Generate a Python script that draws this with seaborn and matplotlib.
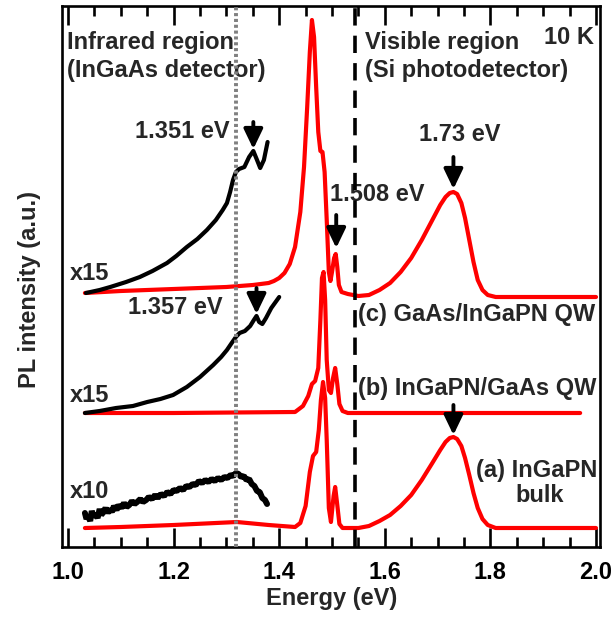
import numpy as np
import pandas as pd
import matplotlib
matplotlib.use("Agg")
import matplotlib.pyplot as plt
from matplotlib.ticker import MultipleLocator
import seaborn as sns

# ---- spectra (energy in eV, PL intensity in a.u., vertical offsets included) ----
# (a) InGaPN bulk, visible detector
a_vis_E = [1.032, 1.10, 1.20, 1.32, 1.38, 1.43, 1.44, 1.450, 1.458, 1.464, 1.470, 1.475,
           1.479, 1.483, 1.487, 1.490, 1.494, 1.498, 1.503, 1.506, 1.510, 1.514, 1.52,
           1.55, 1.57, 1.59, 1.61, 1.63, 1.65, 1.67, 1.69, 1.705, 1.715, 1.723, 1.73,
           1.737, 1.745, 1.752, 1.76, 1.768, 1.776, 1.785, 1.795, 1.81, 2.0]
a_vis_I = [1.9, 2.0, 2.2, 2.5, 2.2, 2.0, 2.4, 4.1, 7.5, 9.1, 9.5, 11.7,
           14.7, 16.5, 14.9, 10.7, 3.9, 2.5, 5.1, 6.0, 4.2, 2.3, 1.9,
           1.9, 2.1, 2.6, 3.2, 4.1, 5.2, 6.7, 8.4, 9.7, 10.5, 10.9, 11.0,
           10.8, 10.1, 8.9, 7.2, 5.4, 3.9, 2.8, 2.2, 1.9, 1.9]

# (a) InGaPN bulk, infrared detector (x10)
a_ir_E = [1.032, 1.035, 1.038, 1.042, 1.045, 1.049, 1.052, 1.056, 1.060, 1.063, 1.067,
          1.071, 1.075, 1.079, 1.083, 1.087, 1.092, 1.096, 1.101, 1.106, 1.111, 1.116,
          1.121, 1.126, 1.131, 1.137, 1.142, 1.148, 1.153, 1.159, 1.165, 1.170, 1.176,
          1.182, 1.188, 1.194, 1.200, 1.206, 1.212, 1.218, 1.224, 1.230, 1.236, 1.242,
          1.248, 1.254, 1.260, 1.266, 1.272, 1.278, 1.284, 1.290, 1.296, 1.302, 1.308,
          1.313, 1.318, 1.323, 1.328, 1.333, 1.338, 1.343, 1.348, 1.353, 1.358, 1.363,
          1.368, 1.373, 1.377]
a_ir_I = [3.4, 2.8, 3.1, 2.6, 3.6, 3.0, 3.3, 2.9, 3.8, 3.2, 3.5,
          3.9, 3.4, 3.8, 3.5, 4.1, 3.7, 4.2, 3.9, 4.4, 4.0, 4.2,
          4.6, 4.3, 4.5, 4.8, 4.5, 4.7, 5.0, 4.8, 5.2, 4.9, 5.3,
          5.1, 5.5, 5.3, 5.7, 5.6, 5.9, 5.7, 6.1, 6.0, 6.3, 6.2,
          6.6, 6.4, 6.7, 6.5, 6.8, 6.6, 6.9, 6.7, 7.0, 6.9, 7.2,
          7.1, 7.4, 7.3, 7.0, 7.1, 6.7, 6.8, 6.3, 6.1, 5.6, 5.5,
          4.9, 4.7, 4.3]

# (b) InGaPN/GaAs QW, visible detector
b_vis_E = [1.032, 1.20, 1.43, 1.445, 1.455, 1.462, 1.468, 1.474, 1.478, 1.481, 1.484,
           1.487, 1.490, 1.494, 1.498, 1.502, 1.506, 1.510, 1.514, 1.520, 1.53, 1.97]
b_vis_I = [13.4, 13.4, 13.5, 14.1, 15.1, 16.3, 16.6, 17.9, 22.7, 26.9, 27.5,
           24.7, 18.7, 15.7, 15.4, 16.9, 17.9, 16.3, 14.3, 13.6, 13.4, 13.4]

# (b) InGaPN/GaAs QW, infrared detector (x15)
b_ir_E = [1.032, 1.06, 1.091, 1.123, 1.15, 1.175, 1.199, 1.225, 1.25, 1.275, 1.29,
          1.301, 1.31, 1.318, 1.325, 1.335, 1.345, 1.352, 1.357, 1.362, 1.368, 1.375,
          1.385, 1.40]
b_ir_I = [13.4, 13.6, 13.9, 14.1, 14.5, 14.8, 15.2, 16.0, 17.0, 18.2, 19.0,
          19.7, 20.4, 21.0, 21.4, 21.6, 22.1, 22.7, 23.1, 22.5, 22.3, 22.9,
          23.9, 25.0]

# (c) GaAs/InGaPN QW, visible detector
c_vis_E = [1.032, 1.10, 1.20, 1.30, 1.35, 1.38, 1.39, 1.40, 1.41, 1.42, 1.43, 1.44,
           1.447, 1.453, 1.458, 1.462, 1.466, 1.470, 1.474, 1.478, 1.482, 1.486,
           1.490, 1.494, 1.497, 1.500, 1.504, 1.507, 1.510, 1.513, 1.518, 1.53,
           1.55, 1.57, 1.59, 1.61, 1.63, 1.65, 1.67, 1.69, 1.705, 1.715, 1.723, 1.73,
           1.737, 1.745, 1.752, 1.76, 1.768, 1.776, 1.785, 1.795, 1.81, 2.0]
c_vis_I = [25.4, 25.6, 25.8, 26.0, 26.2, 26.4, 26.6, 26.9, 27.4, 28.3, 30.0, 33.5,
           38.0, 44.0, 49.5, 52.7, 51.0, 46.0, 41.5, 39.6, 39.5, 37.5,
           32.7, 27.5, 26.6, 27.5, 28.9, 29.3, 28.0, 26.2, 25.5, 25.3,
           25.1, 25.2, 25.7, 26.4, 27.5, 28.9, 30.7, 32.7, 34.2, 35.0, 35.4, 35.5,
           35.3, 34.4, 32.9, 30.7, 28.5, 26.7, 25.7, 25.2, 25.0, 25.0]

# (c) GaAs/InGaPN QW, infrared detector (x15)
c_ir_E = [1.034, 1.06, 1.08, 1.11, 1.136, 1.16, 1.1875, 1.205, 1.225, 1.245, 1.263,
          1.28, 1.293, 1.301, 1.307, 1.3125, 1.318, 1.324, 1.334, 1.343, 1.351, 1.358,
          1.364, 1.371, 1.378]
c_ir_I = [25.4, 25.7, 26.0, 26.5, 27.0, 27.6, 28.4, 29.1, 30.0, 30.8, 31.7,
          32.7, 33.7, 34.4, 35.5, 36.7, 37.5, 37.8, 38.0, 39.0, 39.6, 38.7,
          37.9, 38.7, 40.5]

# detector boundaries (eV)
ir_boundary = 1.318
vis_boundary = 1.544

# peak markers: label energy, arrow tail and arrow tip heights
peak_E = [1.351, 1.357, 1.508, 1.73, 1.73]
peak_tail = [42.5, 25.9, 33.2, 39.0, 14.2]
peak_tip = [39.8, 23.3, 29.9, 35.8, 11.2]

x_ticks = [1.0, 1.2, 1.4, 1.6, 1.8, 2.0]


def frame(E, I, name):
    return pd.DataFrame({"Energy (eV)": E, "PL intensity (a.u.)": I, "curve": name})


red_df = pd.concat([frame(a_vis_E, a_vis_I, "a"), frame(b_vis_E, b_vis_I, "b"),
                    frame(c_vis_E, c_vis_I, "c")], ignore_index=True)
blk_df = pd.concat([frame(b_ir_E, b_ir_I, "b"), frame(c_ir_E, c_ir_I, "c")],
                   ignore_index=True)
noisy_df = frame(a_ir_E, a_ir_I, "a")

sns.set_theme(style="white")
plt.rcParams["font.family"] = ["Liberation Sans", "DejaVu Sans"]
plt.rcParams["font.weight"] = "bold"
plt.rcParams["lines.solid_joinstyle"] = "round"
plt.rcParams["lines.solid_capstyle"] = "round"

fig = plt.figure(figsize=(6.12, 6.19), dpi=100)
ax = fig.add_axes([62 / 612, 1 - 547 / 619, 538 / 612, 541 / 619])

sns.lineplot(data=red_df, x="Energy (eV)", y="PL intensity (a.u.)", units="curve",
             estimator=None, sort=False, color="#ff0000", lw=3.0, ax=ax, zorder=2)
sns.lineplot(data=blk_df, x="Energy (eV)", y="PL intensity (a.u.)", units="curve",
             estimator=None, sort=False, color="black", lw=3.0, ax=ax, zorder=3)
sns.lineplot(data=noisy_df, x="Energy (eV)", y="PL intensity (a.u.)",
             estimator=None, sort=False, color="black", lw=4.3, ax=ax, zorder=3,
             solid_joinstyle="bevel")

ax.axvline(ir_boundary, color="#808080", lw=2.8, ls=(0, (0.8, 0.7)), zorder=4)
ax.axvline(vis_boundary, color="black", lw=2.6, ls=(0, (4.8, 2.8)), zorder=4)

for E, tail, tip in zip(peak_E, peak_tail, peak_tip):
    ax.annotate("", xy=(E, tip), xytext=(E, tail),
                arrowprops=dict(arrowstyle="-|>,head_length=0.75,head_width=0.36",
                                color="black", lw=2.8, mutation_scale=16,
                                shrinkA=0, shrinkB=0), zorder=5)

fs = 17
kw = dict(fontsize=fs, fontweight="bold", va="center")
ax.text(0.998, 50.5, "Infrared region", ha="left", **kw)
ax.text(0.998, 47.7, "(InGaAs detector)", ha="left", **kw)
ax.text(1.5625, 50.5, "Visible region", ha="left", **kw)
ax.text(1.5625, 47.7, "(Si photodetector)", ha="left", **kw)
ax.text(1.996, 51.0, "10 K", ha="right", **kw)

ax.text(1.307, 41.6, "1.351 eV", ha="right", **kw)
ax.text(1.292, 23.9, "1.357 eV", ha="right", **kw)
ax.text(1.742, 41.3, "1.73 eV", ha="center", **kw)
ax.text(1.496, 35.3, "1.508 eV", ha="left", **kw)

ax.text(1.004, 27.4, "x15", ha="left", **kw)
ax.text(1.004, 15.2, "x15", ha="left", **kw)
ax.text(1.004, 5.5, "x10", ha="left", **kw)

ax.text(1.549, 23.2, "(c) GaAs/InGaPN QW", ha="left", **kw)
ax.text(1.549, 15.8, "(b) InGaPN/GaAs QW", ha="left", **kw)
ax.text(1.888, 7.6, "(a) InGaPN", ha="center", **kw)
ax.text(1.893, 5.1, "bulk", ha="center", **kw)

ax.set_xlim(0.9886, 2.0076)
ax.set_ylim(0, 54.1)
ax.set_xticks(x_ticks)
ax.set_xticklabels([f"{t:.1f}" for t in x_ticks], fontsize=fs, fontweight="bold")
ax.xaxis.set_minor_locator(MultipleLocator(0.05))
ax.set_yticks([])
ax.tick_params(axis="x", which="both", direction="in", top=True, bottom=True,
               colors="black", width=1.9)
ax.tick_params(axis="x", which="major", length=14, pad=10)
ax.tick_params(axis="x", which="minor", length=7.5)
for s in ax.spines.values():
    s.set_color("black")
    s.set_linewidth(1.9)

ax.set_xlabel("")
ax.set_ylabel("")
fig.text(332 / 612, 1 - 598 / 619, "Energy (eV)", fontsize=fs, fontweight="bold",
         ha="center", va="center")
fig.text(30 / 612, 1 - 290 / 619, "PL intensity (a.u.)", fontsize=fs, fontweight="bold",
         ha="center", va="center", rotation=90)

fig.savefig("out.png", dpi=100)
